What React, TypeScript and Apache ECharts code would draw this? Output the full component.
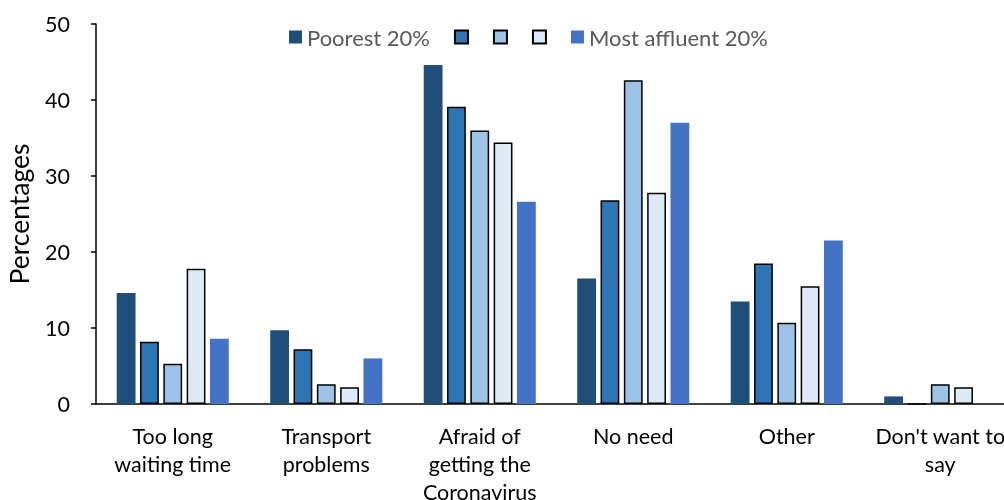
import React, { useEffect, useRef } from "react";
import * as echarts from "echarts";

const categories = [
  "Too long\nwaiting time",
  "Transport\nproblems",
  "Afraid of\ngetting the\nCoronavirus",
  "No need",
  "Other",
  "Don't want to\nsay",
];
const seriesNames = ["Poorest 20%", "Second 20%", "Middle 20%", "Fourth 20%", "Most affluent 20%"];
const poorest = [14.6, 9.7, 44.6, 16.5, 13.5, 1.0];
const second = [8.2, 7.2, 39.1, 26.8, 18.5, 0];
const middle = [5.3, 2.6, 36.0, 42.6, 10.7, 2.6];
const fourth = [17.8, 2.2, 34.4, 27.8, 15.5, 2.2];
const affluent = [8.6, 6.0, 26.6, 37.0, 21.5, 0];
const yTicks = { min: 0, max: 50, interval: 10 };

const colors = ["#1F4E79", "#2E75B6", "#9DC3E6", "#DEEBF7", "#4472C4"];
const bordered = [false, true, true, true, false];
const hiddenLegendText = ["Second 20%", "Middle 20%", "Fourth 20%"];

export default function App() {
  const ref = useRef<HTMLDivElement>(null);
  useEffect(() => {
    if (!ref.current) return;
    const chart = echarts.init(ref.current, null, { renderer: "svg" });
    const data = [poorest, second, middle, fourth, affluent];
    chart.setOption({
      animation: false,
      textStyle: { fontFamily: "Lato" },
      legend: {
        top: 21,
        left: 284,
        icon: "rect",
        itemWidth: 13,
        itemHeight: 13,
        itemGap: 24,
        data: seriesNames,
        formatter: (n: string) => (hiddenLegendText.includes(n) ? "" : n),
        textStyle: { fontSize: 22, color: "#595959", fontFamily: "Lato" },
      },
      grid: {
        left: 96,
        right: -13,
        top: 24,
        bottom: 96,
        containLabel: false,
        outerBoundsMode: "none",
      },
      xAxis: {
        type: "category",
        data: categories,
        axisLine: { lineStyle: { color: "#000", width: 1.5 } },
        axisTick: { show: false },
        axisLabel: {
          color: "#000",
          fontSize: 21.5,
          lineHeight: 28,
          margin: 18,
          interval: 0,
          fontFamily: "Lato",
        },
      },
      yAxis: {
        type: "value",
        min: yTicks.min,
        max: yTicks.max,
        interval: yTicks.interval,
        name: "Percentages",
        nameLocation: "middle",
        nameGap: 64,
        nameTextStyle: { fontSize: 26.5, color: "#000", fontFamily: "Lato" },
        axisLine: { show: true, lineStyle: { color: "#000", width: 1.5 } },
        axisTick: { show: true, length: 5, lineStyle: { color: "#000", width: 1.5 } },
        splitLine: { show: false },
        axisLabel: { color: "#000", fontSize: 21.5, margin: 26, fontFamily: "Lato" },
      },
      series: seriesNames.map((name, i) => ({
        name,
        type: "bar",
        data: data[i],
        barGap: "24%",
        barCategoryGap: "27%",
        itemStyle: {
          color: colors[i],
          borderColor: bordered[i] ? "#000" : colors[i],
          borderWidth: bordered[i] ? 1.5 : 0,
        },
      })),
    });
    return () => chart.dispose();
  }, []);
  return (
    <div
      ref={ref}
      style={{ position: "fixed", left: 0, top: 0, width: 1004, height: 500 }}
    />
  );
}
